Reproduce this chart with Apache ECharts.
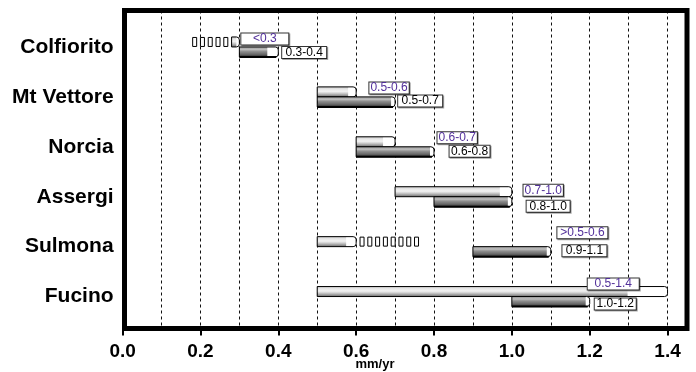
<!DOCTYPE html>
<html><head><meta charset="utf-8">
<script src="https://cdn.jsdelivr.net/npm/echarts@6/dist/echarts.min.js"></script>
<style>html,body{margin:0;padding:0;background:#fff}#c{width:696px;height:372px}</style>
</head><body><div id="c"></div>
<script>
// ---- data ----
const sites = ['Colfiorito', 'Mt Vettore', 'Norcia', 'Assergi', 'Sulmona', 'Fucino'];
const upperMin = [0.28, 0.5, 0.6, 0.7, 0.5, 0.5];
const upperMax = [0.30, 0.6, 0.7, 1.0, 0.6, 1.4];
const lowerMin = [0.3, 0.5, 0.6, 0.8, 0.9, 1.0];
const lowerMax = [0.4, 0.7, 0.8, 1.0, 1.1, 1.2];
const upperText = ['<0.3', '0.5-0.6', '0.6-0.7', '0.7-1.0', '>0.5-0.6', '0.5-1.4'];
const lowerText = ['0.3-0.4', '0.5-0.7', '0.6-0.8', '0.8-1.0', '0.9-1.1', '1.0-1.2'];
const dottedSite = [0, 4];
const dottedFrom = [0.18, 0.61];
const dottedTo = [0.26, 0.75];
const tickValues = [0, 0.2, 0.4, 0.6, 0.8, 1.0, 1.2, 1.4];
const axisTitle = 'mm/yr';

// ---- annotation layout (style, not data) ----
const upperLX = [0.305, 0.634, 0.809, 1.03, 1.117, 1.195];
const upperDY = [-8, -9, -9, -6.5, -14, -12.5];
const upperW  = [49, 41, 39, 40, 52, 53];
const lowerLX = [0.41, 0.708, 0.84, 1.038, 1.13, 1.213];
const lowerDY = [5.5, 4, 4.5, 9.5, 4, 7.5];
const lowerW  = [46, 46, 42, 45, 46, 43];
const lowerCap = [11, 4, 4, 4, 4, 4];
const upperCap = [3, 8, 12, 12, 10, 40];

const FONT = '"Liberation Sans", Arial, Helvetica, sans-serif';
const GL = 122.6, GW = 564.4, XMAX = 1.45;
const PURPLE = '#52309a';

const mctx = document.createElement('canvas').getContext('2d');
const LFONT = '12px ' + FONT;
function tw(t) { mctx.font = LFONT; return mctx.measureText(t).width; }

const upperGrad = new echarts.graphic.LinearGradient(0, 0, 0, 1, [
  {offset: 0, color: '#c4c4c4'}, {offset: 0.2, color: '#e6e6e6'},
  {offset: 0.45, color: '#f2f2f2'}, {offset: 0.62, color: '#d2d2d2'},
  {offset: 0.8, color: '#a4a4a4'}, {offset: 1, color: '#6e6e6e'}]);
const lowerGrad = new echarts.graphic.LinearGradient(0, 0, 0, 1, [
  {offset: 0, color: '#9a9a9a'}, {offset: 0.25, color: '#bdbdbd'},
  {offset: 0.45, color: '#8e8e8e'}, {offset: 0.75, color: '#666'},
  {offset: 1, color: '#2a2a2a'}]);

function barItem(kind) {
  return function (params, api) {
    const i = params.dataIndex;
    const row = api.value(0), a = api.value(1), b = api.value(2);
    const p0 = api.coord([a, row]), p1 = api.coord([b, row]);
    const h = 10;
    const yc = p0[1];
    const y = kind === 0 ? yc - h : yc;
    const x0 = p0[0], x1 = p1[0], w = x1 - x0;
    const cap = Math.min(kind === 0 ? upperCap[i] : lowerCap[i], w * 0.4);
    const ch = [
      {type: 'rect', shape: {x: x0, y: y, width: w - cap + 1, height: h}, style: {fill: kind === 0 ? upperGrad : lowerGrad}},
      {type: 'rect', shape: {x: x1 - cap, y: y, width: cap, height: h, r: [0, 3, 3, 0]}, style: {fill: '#fff'}},
      {type: 'rect', shape: {x: x0, y: y, width: w, height: h, r: [0, 3, 3, 0]}, style: {fill: 'none', stroke: '#000', lineWidth: 1}}
    ];
    if (kind === 1) ch.push({type: 'line', shape: {x1: x0, y1: y + h, x2: x1 - 2, y2: y + h}, style: {stroke: '#000', lineWidth: 2}});
    return {type: 'group', children: ch};
  };
}

function dotItem(params, api) {
  const row = api.value(0), a = api.value(1), b = api.value(2);
  const ch = [];
  for (let v = a; v <= b + 1e-9; v += 0.02) {
    const p = api.coord([v, row]);
    ch.push({type: 'rect', shape: {x: p[0], y: p[1] - 9.5, width: 4, height: 9}, style: {fill: '#fff', stroke: '#000', lineWidth: 1}});
  }
  return {type: 'group', children: ch};
}

function labelItem(kind) {
  return function (params, api) {
    const i = params.dataIndex;
    const row = api.value(0), xv = api.value(1);
    const p = api.coord([xv, row]);
    const txt = kind === 0 ? upperText[i] : lowerText[i];
    const bw = kind === 0 ? upperW[i] : lowerW[i];
    const dy = kind === 0 ? upperDY[i] : lowerDY[i];
    const pad = Math.max(1, (bw - 2 - tw(txt)) / 2);
    return {
      type: 'text', x: p[0], y: p[1] + dy,
      style: {
        text: txt, font: LFONT, fill: kind === 0 ? PURPLE : '#000',
        align: 'left', verticalAlign: 'middle',
        backgroundColor: '#fff', borderColor: '#333', borderWidth: 1,
        padding: [1, pad, 0, pad], lineHeight: 10,
        shadowColor: 'rgba(0,0,0,0.35)', shadowOffsetX: 1, shadowOffsetY: 1, shadowBlur: 0
      }
    };
  };
}

const chart = echarts.init(document.getElementById('c'), null, {renderer: 'canvas'});
const rows = sites.map((s, i) => i);

chart.setOption({
  animation: false,
  backgroundColor: '#fff',
  grid: [
    {left: GL, top: 10.5, width: GW, height: 318},
    {left: GL, top: 22, width: GW, height: 299.5}
  ],
  xAxis: [
    {gridIndex: 0, type: 'value', position: 'bottom', min: 0, max: XMAX,
      axisLine: {show: false}, splitLine: {show: false},
      axisTick: {show: true, customValues: tickValues, length: 7, inside: false, lineStyle: {color: '#000', width: 2}},
      axisLabel: {customValues: tickValues, formatter: v => v.toFixed(1), margin: 14,
        fontFamily: FONT, fontWeight: 'bold', fontSize: 19, color: '#000'}},
    {gridIndex: 0, type: 'value', position: 'top', min: 0, max: XMAX, interval: 0.1,
      axisLine: {show: false}, axisTick: {show: false}, axisLabel: {show: false},
      splitLine: {show: true, lineStyle: {color: '#111', width: 1, type: [3, 3]}}},
    {gridIndex: 1, type: 'value', min: 0, max: XMAX, show: false}
  ],
  yAxis: [
    {gridIndex: 0, type: 'value', show: false, min: 0, max: 1},
    {gridIndex: 1, type: 'category', data: sites, inverse: true,
      axisLine: {show: false}, axisTick: {show: false}, splitLine: {show: false},
      axisLabel: {margin: 9, fontFamily: FONT, fontWeight: 'bold', fontSize: 21, color: '#000'}}
  ],
  graphic: [
    {type: 'rect', z: 100, shape: {x: 124.5, y: 10.5, width: 562.5, height: 318}, style: {fill: 'none', stroke: '#000', lineWidth: 5}},
    {type: 'text', z: 100, x: 375, y: 364, style: {text: axisTitle, font: 'bold 13px ' + FONT, fill: '#000', align: 'center', verticalAlign: 'middle'}}
  ],
  series: [
    {type: 'custom', xAxisIndex: 2, yAxisIndex: 1, renderItem: dotItem, z: 3,
      data: dottedSite.map((r, k) => [r, dottedFrom[k], dottedTo[k]])},
    {type: 'custom', xAxisIndex: 2, yAxisIndex: 1, renderItem: barItem(0), z: 4,
      data: rows.map(i => [i, upperMin[i], upperMax[i]])},
    {type: 'custom', xAxisIndex: 2, yAxisIndex: 1, renderItem: barItem(1), z: 4,
      data: rows.map(i => [i, lowerMin[i], lowerMax[i]])},
    {type: 'custom', xAxisIndex: 2, yAxisIndex: 1, renderItem: labelItem(0), z: 6,
      data: rows.map(i => [i, upperLX[i]])},
    {type: 'custom', xAxisIndex: 2, yAxisIndex: 1, renderItem: labelItem(1), z: 6,
      data: rows.map(i => [i, lowerLX[i]])}
  ]
});
</script></body></html>
